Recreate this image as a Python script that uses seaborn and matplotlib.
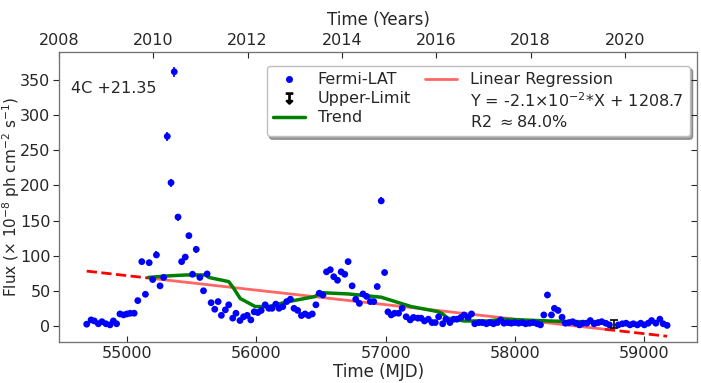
import numpy as np
import matplotlib
matplotlib.use('Agg')
import matplotlib.pyplot as plt
from matplotlib.lines import Line2D
import seaborn as sns

# Fermi-LAT monthly light curve of 4C +21.35
mjd = [54689, 54723, 54748, 54779, 54807, 54838, 54869, 54895, 54920, 54946,
       54974, 55000, 55026, 55056, 55084, 55115, 55143, 55172, 55199, 55228,
       55256, 55284, 55312, 55341, 55366, 55395, 55423, 55451, 55479, 55507,
       55536, 55564, 55592, 55620, 55651, 55679, 55705, 55730, 55761, 55787,
       55818, 55843, 55874, 55902, 55930, 55958, 55984, 56012, 56038, 56069,
       56097, 56122, 56151, 56176, 56205, 56235, 56264, 56292, 56320, 56349,
       56377, 56405, 56433, 56461, 56487, 56515, 56543, 56572, 56599, 56628,
       56656, 56684, 56710, 56741, 56769, 56797, 56825, 56853, 56882, 56908,
       56935, 56966, 56992, 57018, 57043, 57069, 57100, 57128, 57159, 57190,
       57215, 57249, 57274, 57300, 57330, 57359, 57384, 57410, 57441, 57466,
       57497, 57526, 57551, 57582, 57607, 57638, 57664, 57689, 57722, 57748,
       57779, 57807, 57833, 57864, 57889, 57915, 57946, 57971, 57997, 58028,
       58056, 58082, 58113, 58141, 58172, 58197, 58223, 58251, 58282, 58305,
       58333, 58364, 58389, 58418, 58446, 58472, 58499, 58525, 58556, 58582,
       58612, 58643, 58671, 58702, 58730, 58799, 58830, 58859, 58889, 58915,
       58946, 58972, 59000, 59030, 59056, 59089, 59120, 59146, 59176]

flux = [2.4, 8.5, 7, 3, 6, 3, 1.4, 7, 3, 17,
        15.6, 17, 18, 18, 36, 91.5, 45, 90, 66, 101,
        57, 69, 270, 204, 362, 155, 91.5, 98, 128.5, 73.5,
        109, 69, 50, 74, 33, 23.7, 34.6, 15, 22.8, 30,
        11, 18, 7.6, 13, 15, 8.5, 20, 19, 22, 30,
        25, 25, 31, 25, 27.5, 34.6, 38, 25, 22, 14.7,
        17, 14.7, 17, 30, 46.5, 44, 77, 80, 70, 65,
        77, 73.5, 91.5, 57, 38, 32, 45.5, 42, 34.6, 34.6,
        56, 178, 76, 20, 15.6, 18, 18, 25, 13, 8.5,
        12, 11, 11, 7, 9.5, 4.7, 4.7, 13, 3, 9.5,
        4.7, 9.5, 9.5, 12, 15.6, 12, 17, 3, 4.7, 4.7,
        3, 4.7, 3, 4.7, 8.5, 3.8, 4.7, 3.8, 4.7, 3.8,
        4.7, 3, 3.8, 4.7, 3, 1.4, 15.6, 44, 15.6, 25,
        22, 12.3, 3.8, 4.7, 5.9, 3.8, 1.4, 3.8, 3.8, 7.6,
        3, 4.7, 6, 3.8, 1.4, 1.4, 3, 3.8, 1.4, 3,
        1.4, 3.8, 1.4, 3.8, 7.6, 3.8, 9.5, 3, 0.7]

flux_err = [2, 2, 2, 2, 2, 2, 2, 2, 2, 2.5,
            2.5, 2.5, 2.5, 2.5, 3, 4, 3, 4, 3.5, 5,
            3.5, 3.5, 6, 5.5, 7, 5, 4, 4, 4.5, 3.5,
            4.5, 3.5, 3, 3.5, 2.5, 2.5, 2.5, 2, 2.5, 2.5,
            2, 2, 2, 2, 2, 2, 2, 2, 2.5, 2.5,
            2.5, 2.5, 2.5, 2.5, 2.5, 2.5, 2.5, 2.5, 2.5, 2,
            2, 2, 2, 2.5, 3, 3, 3.5, 3.5, 3.5, 3.5,
            3.5, 3.5, 4, 3, 2.5, 2.5, 3, 3, 2.5, 2.5,
            3, 5, 3.5, 2, 2, 2, 2, 2, 2, 2,
            2, 2, 2, 2, 2, 2, 2, 2, 2, 2,
            2, 2, 2, 2, 2, 2, 2, 2, 2, 2,
            2, 2, 2, 2, 2, 2, 2, 2, 2, 2,
            2, 2, 2, 2, 2, 2, 2, 3, 2, 2.5,
            2.5, 2, 2, 2, 2, 2, 2, 2, 2, 2,
            2, 2, 2, 2, 2, 2, 2, 2, 2, 2,
            2, 2, 2, 2, 2, 2, 2, 2, 2]

# upper limit bin
ul_mjd = [58769]
ul_flux = [3.0]
ul_err = [5.5]

# smoothed trend
trend_mjd = [55166, 55300, 55453, 55607, 55633, 55787, 55825, 55876, 55992,
             56094, 56248, 56453, 56491, 56710, 56966, 57197, 57402, 57441,
             57480, 57607, 57787, 57915, 58172, 58428, 58690]
trend_flux = [69, 71, 72.5, 72.5, 69, 63, 53.6, 39, 27.5,
              27.5, 34.6, 41.7, 47.4, 45.5, 40.8, 27.5, 20.4, 17,
              11, 7, 7, 9.5, 7.6, 6, 6]

# linear regression  Y = a*X + b
reg_slope = -0.020675
reg_intercept = 1208.7
reg_fit_range = [55160, 58695]
reg_full_range = [54689, 59176]

sns.set_style('white')
plt.rcParams['font.family'] = ['DejaVu Sans']

fig = plt.figure(figsize=(7.01, 3.83), dpi=100)
ax = fig.add_axes([0.084, 0.107, 0.911, 0.757])

# regression: solid over fitted range, dashed extrapolation
xf = np.array(reg_fit_range)
sns.lineplot(x=xf, y=reg_slope * xf + reg_intercept, color='red', alpha=0.6,
             lw=2, ax=ax, legend=False, zorder=2)
for seg in ([reg_full_range[0], reg_fit_range[0]], [reg_fit_range[1], reg_full_range[1]]):
    xs = np.array(seg)
    sns.lineplot(x=xs, y=reg_slope * xs + reg_intercept, color='red', lw=2,
                 ls='--', ax=ax, legend=False, zorder=2)

ax.errorbar(mjd, flux, yerr=flux_err, fmt='none', ecolor='blue', elinewidth=1.2, zorder=3)
sns.scatterplot(x=mjd, y=flux, color='blue', s=24, edgecolor='none', ax=ax,
                legend=False, zorder=4)
ax.errorbar(ul_mjd, ul_flux, yerr=ul_err, fmt='none', ecolor='black',
            elinewidth=1.2, capsize=3, capthick=1.2, zorder=4)
sns.lineplot(x=trend_mjd, y=trend_flux, color='green', lw=2.5, ax=ax,
             legend=False, zorder=3)

ax.set_xlim(54474, 59411)
ax.set_ylim(-23, 390)
ax.set_xticks([55000, 56000, 57000, 58000, 59000])
ax.set_yticks([0, 50, 100, 150, 200, 250, 300, 350])
ax.set_xlabel('Time (MJD)', fontsize=12, labelpad=1)
ax.set_ylabel(r'Flux ($\times$ 10$^{-8}$ ph cm$^{-2}$ s$^{-1}$)', fontsize=11)
ax.yaxis.set_label_coords(-0.058, 0.5)
ax.tick_params(axis='y', direction='out', length=4, labelsize=11.5, left=True, pad=2)
ax.tick_params(axis='x', direction='in', length=4, labelsize=11.5, bottom=True, pad=3)
for s in ax.spines.values():
    s.set_color('0.45')

# right-hand ticks (inward, no labels)
axr = ax.twinx()
axr.set_ylim(ax.get_ylim())
axr.set_yticks(ax.get_yticks())
axr.tick_params(direction='in', length=4, labelright=False, right=True)

# top axis in calendar years
def mjd_to_year(m):
    return 2000.0 + (m - 51544.5) / 365.25

axt = ax.twiny()
axt.set_xlim(mjd_to_year(54474), mjd_to_year(59411))
axt.set_xticks([2008, 2010, 2012, 2014, 2016, 2018, 2020])
axt.tick_params(direction='in', length=4, labelsize=11.5, top=True, pad=3)
axt.set_xlabel('Time (Years)', fontsize=12, labelpad=6)
for a in (axr, axt):
    for s in a.spines.values():
        s.set_color('0.45')

ax.text(0.019, 0.876, '4C +21.35', transform=ax.transAxes, fontsize=11.5, va='center')

handles = [
    Line2D([], [], color='blue', marker='o', ls='none', markersize=4),
    Line2D([], [], color='black', marker='$\u21a7$', ls='none', markersize=8),
    Line2D([], [], color='green', lw=2.5),
    Line2D([], [], color='red', alpha=0.6, lw=2),
    Line2D([], [], ls='none'),
    Line2D([], [], ls='none'),
]
labels = ['Fermi-LAT', 'Upper-Limit', 'Trend', 'Linear Regression',
          r'Y = -2.1$\times$10$^{-2}$*X + 1208.7', r'R2 $\approx$84.0%']
leg = ax.legend(handles, labels, ncol=2, loc='upper right', fontsize=11.5,
                bbox_to_anchor=(0.988, 0.952), borderaxespad=0, shadow=True,
                framealpha=1, handlelength=2, columnspacing=0.9,
                labelspacing=0.25, borderpad=0.4)
leg.get_frame().set_edgecolor('0.75')

fig.savefig('out.png', dpi=100)
